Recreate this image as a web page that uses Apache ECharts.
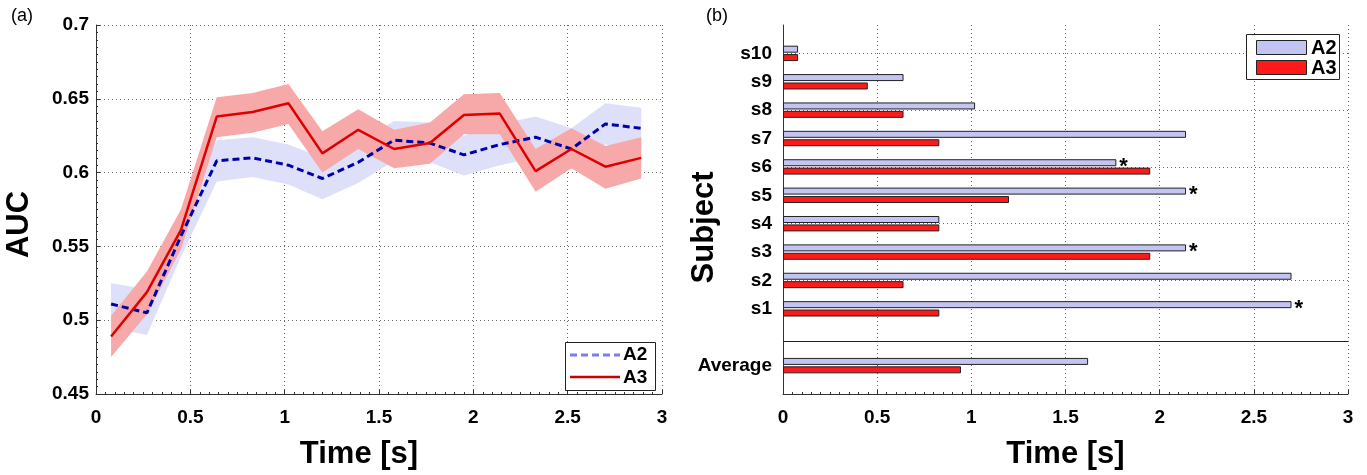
<!DOCTYPE html>
<html>
<head>
<meta charset="utf-8">
<script src="https://cdn.jsdelivr.net/npm/echarts@6/dist/echarts.min.js"></script>
<style>
html,body{margin:0;padding:0;background:#fff;}
#chart{width:1367px;height:475px;}
</style>
</head>
<body>
<div id="chart"></div>
<script>
// ---------- Data: panel (a) ----------
const times = [0.08, 0.27, 0.45, 0.64, 0.83, 1.02, 1.20, 1.39, 1.58, 1.77, 1.95, 2.14, 2.33, 2.52, 2.70, 2.89];
const a2Mean  = [0.511, 0.505, 0.557, 0.608, 0.610, 0.605, 0.596, 0.607, 0.622, 0.620, 0.612, 0.619, 0.624, 0.616, 0.633, 0.630];
const a2Upper = [0.525, 0.521, 0.571, 0.622, 0.624, 0.619, 0.610, 0.620, 0.635, 0.634, 0.625, 0.633, 0.638, 0.630, 0.647, 0.644];
const a2Lower = [0.495, 0.490, 0.543, 0.594, 0.597, 0.592, 0.582, 0.593, 0.608, 0.607, 0.598, 0.605, 0.610, 0.602, 0.619, 0.616];
const a3Mean  = [0.489, 0.519, 0.561, 0.638, 0.641, 0.647, 0.613, 0.629, 0.616, 0.620, 0.639, 0.640, 0.601, 0.616, 0.604, 0.610];
const a3Upper = [0.503, 0.533, 0.575, 0.651, 0.654, 0.660, 0.628, 0.643, 0.629, 0.634, 0.653, 0.654, 0.616, 0.630, 0.618, 0.624];
const a3Lower = [0.475, 0.504, 0.548, 0.624, 0.627, 0.633, 0.600, 0.616, 0.603, 0.606, 0.626, 0.626, 0.587, 0.603, 0.589, 0.596];
const aucTicks = [0.45, 0.7, 0.05];   // min, max, step
const timeTicks = [0, 3, 0.5];        // min, max, step

// ---------- Data: panel (b) ----------
const subjects = ['s1','s2','s3','s4','s5','s6','s7','s8','s9','s10'];
const subjA2 = [2.70, 2.70, 2.14, 0.83, 2.14, 1.77, 2.14, 1.02, 0.64, 0.08];
const subjA3 = [0.83, 0.64, 1.95, 0.83, 1.20, 1.95, 0.83, 0.64, 0.45, 0.08];
const significant = [true, false, true, false, true, true, false, false, false, false];
const averageLabel = 'Average';
const avgA2 = 1.62;
const avgA3 = 0.945;

// ---------- Build ----------
const FONT = '"Liberation Sans", Arial, Helvetica, sans-serif';
const GRID_COLOR = '#666';
const AXIS_COLOR = '#333';

// rows bottom -> top: blank, Average, separator, s1..s10, blank
const rowNames = ['_bottom', averageLabel, '_sep'].concat(subjects).concat(['_top']);
const a2Row = [null, avgA2, null].concat(subjA2.map((v, i) => significant[i]
  ? {value: v, label: {show: true}} : v)).concat([null]);
const a3Row = [null, avgA3, null].concat(subjA3).concat([null]);

function band(lower, upper, color) {
  return {
    type: 'custom', xAxisIndex: 0, yAxisIndex: 0, silent: true, clip: false, z: 1,
    data: [[times[0], lower[0]]],
    renderItem: function (params, api) {
      const pts = [];
      for (let i = 0; i < times.length; i++) pts.push(api.coord([times[i], upper[i]]));
      for (let i = times.length - 1; i >= 0; i--) pts.push(api.coord([times[i], lower[i]]));
      return {type: 'polygon', shape: {points: pts}, style: {fill: color}};
    }
  };
}

const chart = echarts.init(document.getElementById('chart'), null, {renderer: 'canvas'});

const tickLabel = {color: '#000', fontFamily: FONT, fontWeight: 'bold', fontSize: 19};
const nameStyle = {color: '#000', fontFamily: FONT, fontWeight: 'bold', fontSize: 31};
const dotted = {show: true, lineStyle: {color: GRID_COLOR, type: [1, 3], width: 1}};

const option = {
  animation: false,
  backgroundColor: '#fff',
  grid: [
    {left: 96, right: 1367 - 662, top: 25, bottom: 475 - 395, containLabel: false},
    {left: 783, right: 1367 - 1348, top: 25, bottom: 475 - 396, containLabel: false}
  ],
  xAxis: [
    {
      type: 'value', gridIndex: 0, min: timeTicks[0], max: timeTicks[1], interval: timeTicks[2],
      name: 'Time [s]', nameLocation: 'middle', nameGap: 45, nameMoveOverlap: false,
      nameTextStyle: Object.assign({padding: [0, 40, 0, 0]}, nameStyle),
      axisLine: {show: true, onZero: false, lineStyle: {color: AXIS_COLOR, width: 1}},
      axisTick: {show: true, inside: true, length: 4, lineStyle: {color: AXIS_COLOR}},
      minorTick: {show: true, splitNumber: 10, length: 2, lineStyle: {color: AXIS_COLOR}},
      axisLabel: Object.assign({margin: 14}, tickLabel),
      splitLine: dotted
    },
    {
      type: 'value', gridIndex: 1, min: timeTicks[0], max: timeTicks[1], interval: timeTicks[2],
      name: 'Time [s]', nameLocation: 'middle', nameGap: 45, nameMoveOverlap: false, nameTextStyle: nameStyle,
      axisLine: {show: true, onZero: false, lineStyle: {color: AXIS_COLOR, width: 1}},
      axisTick: {show: true, inside: true, length: 4, lineStyle: {color: AXIS_COLOR}},
      minorTick: {show: true, splitNumber: 10, length: 2, lineStyle: {color: AXIS_COLOR}},
      axisLabel: Object.assign({margin: 14}, tickLabel),
      splitLine: dotted
    }
  ],
  yAxis: [
    {
      type: 'value', gridIndex: 0, min: aucTicks[0], max: aucTicks[1], interval: aucTicks[2],
      name: 'AUC', nameLocation: 'middle', nameGap: 61, nameRotate: 90, nameMoveOverlap: false,
      nameTextStyle: Object.assign({padding: [0, 30, 0, 0]}, nameStyle),
      axisLine: {show: true, onZero: false, lineStyle: {color: AXIS_COLOR, width: 1}},
      axisTick: {show: true, inside: true, length: 4, lineStyle: {color: AXIS_COLOR}},
      minorTick: {show: true, splitNumber: 10, length: 2, lineStyle: {color: AXIS_COLOR}},
      axisLabel: Object.assign({margin: 7}, tickLabel),
      splitLine: dotted
    },
    {
      type: 'category', gridIndex: 1, data: rowNames, boundaryGap: false,
      name: 'Subject', nameLocation: 'middle', nameGap: 63, nameRotate: 90, nameMoveOverlap: false,
      nameTextStyle: Object.assign({padding: [0, 36, 0, 0]}, nameStyle),
      axisLine: {show: true, onZero: false, lineStyle: {color: AXIS_COLOR, width: 1}},
      axisTick: {show: false},
      axisLabel: Object.assign({}, tickLabel, {margin: 11, interval: 0, fontSize: 19,
        formatter: v => v.charAt(0) === '_' ? '' : v}),
      splitLine: {show: true, interval: (idx) => idx % 2 === 0 && idx > 2,
        lineStyle: {color: GRID_COLOR, type: [1, 3], width: 1}}
    }
  ],
  series: [
    band(a2Lower, a2Upper, '#dedff8'),
    band(a3Lower, a3Upper, '#f7a9a9'),
    {
      name: 'A2', type: 'line', xAxisIndex: 0, yAxisIndex: 0, z: 3,
      data: times.map((t, i) => [t, a2Mean[i]]), symbol: 'none',
      lineStyle: {color: '#0000a8', width: 3, type: [7, 4]}
    },
    {
      name: 'A3', type: 'line', xAxisIndex: 0, yAxisIndex: 0, z: 4,
      data: times.map((t, i) => [t, a3Mean[i]]), symbol: 'none',
      lineStyle: {color: '#dd0000', width: 2.5}
    },
    {
      name: 'A2 bars', type: 'bar', xAxisIndex: 1, yAxisIndex: 1, data: a2Row,
      barWidth: 7, barGap: '20%',
      itemStyle: {color: '#c4c4f3', borderColor: '#222', borderWidth: 1},
      label: {show: false, position: 'right', formatter: '*', distance: 3, offset: [0, 4],
        color: '#000', fontFamily: FONT, fontWeight: 'bold', fontSize: 22}
    },
    {
      name: 'A3 bars', type: 'bar', xAxisIndex: 1, yAxisIndex: 1, data: a3Row,
      barWidth: 7, barGap: '20%',
      itemStyle: {color: '#ff1a1a', borderColor: '#222', borderWidth: 1},
      markLine: {
        silent: true, symbol: 'none', label: {show: false},
        lineStyle: {color: '#222', type: 'solid', width: 1},
        data: [{yAxis: '_sep'}]
      }
    }
  ],
  graphic: [
    {type: 'text', left: 11, top: 7, style: {text: '(a)', font: '18px ' + FONT, fill: '#000'}},
    {type: 'text', left: 706, top: 7, style: {text: '(b)', font: '18px ' + FONT, fill: '#000'}},
    // legend (a)
    {type: 'rect', shape: {x: 565.5, y: 342.5, width: 90, height: 48},
      style: {fill: '#fff', stroke: '#222', lineWidth: 1}, z: 10},
    {type: 'line', shape: {x1: 570, y1: 355, x2: 620, y2: 355},
      style: {stroke: '#7a7aff', lineWidth: 3, lineDash: [7, 4]}, z: 11},
    {type: 'line', shape: {x1: 570, y1: 377, x2: 620, y2: 377},
      style: {stroke: '#cc0000', lineWidth: 2.5}, z: 11},
    {type: 'text', x: 623, y: 355, style: {text: 'A2', font: 'bold 19px ' + FONT, fill: '#000', verticalAlign: 'middle'}, z: 11},
    {type: 'text', x: 623, y: 378, style: {text: 'A3', font: 'bold 19px ' + FONT, fill: '#000', verticalAlign: 'middle'}, z: 11},
    // legend (b)
    {type: 'rect', shape: {x: 1246.5, y: 34.5, width: 93, height: 45},
      style: {fill: '#fff', stroke: '#222', lineWidth: 1}, z: 10},
    {type: 'rect', shape: {x: 1256.5, y: 40.5, width: 50, height: 14},
      style: {fill: '#c4c4f3', stroke: '#222', lineWidth: 1}, z: 11},
    {type: 'rect', shape: {x: 1256.5, y: 60.5, width: 50, height: 14},
      style: {fill: '#ff1a1a', stroke: '#222', lineWidth: 1}, z: 11},
    {type: 'text', x: 1311, y: 48, style: {text: 'A2', font: 'bold 20px ' + FONT, fill: '#000', verticalAlign: 'middle'}, z: 11},
    {type: 'text', x: 1311, y: 68, style: {text: 'A3', font: 'bold 20px ' + FONT, fill: '#000', verticalAlign: 'middle'}, z: 11}
  ]
};
chart.setOption(option);
</script>
</body>
</html>
